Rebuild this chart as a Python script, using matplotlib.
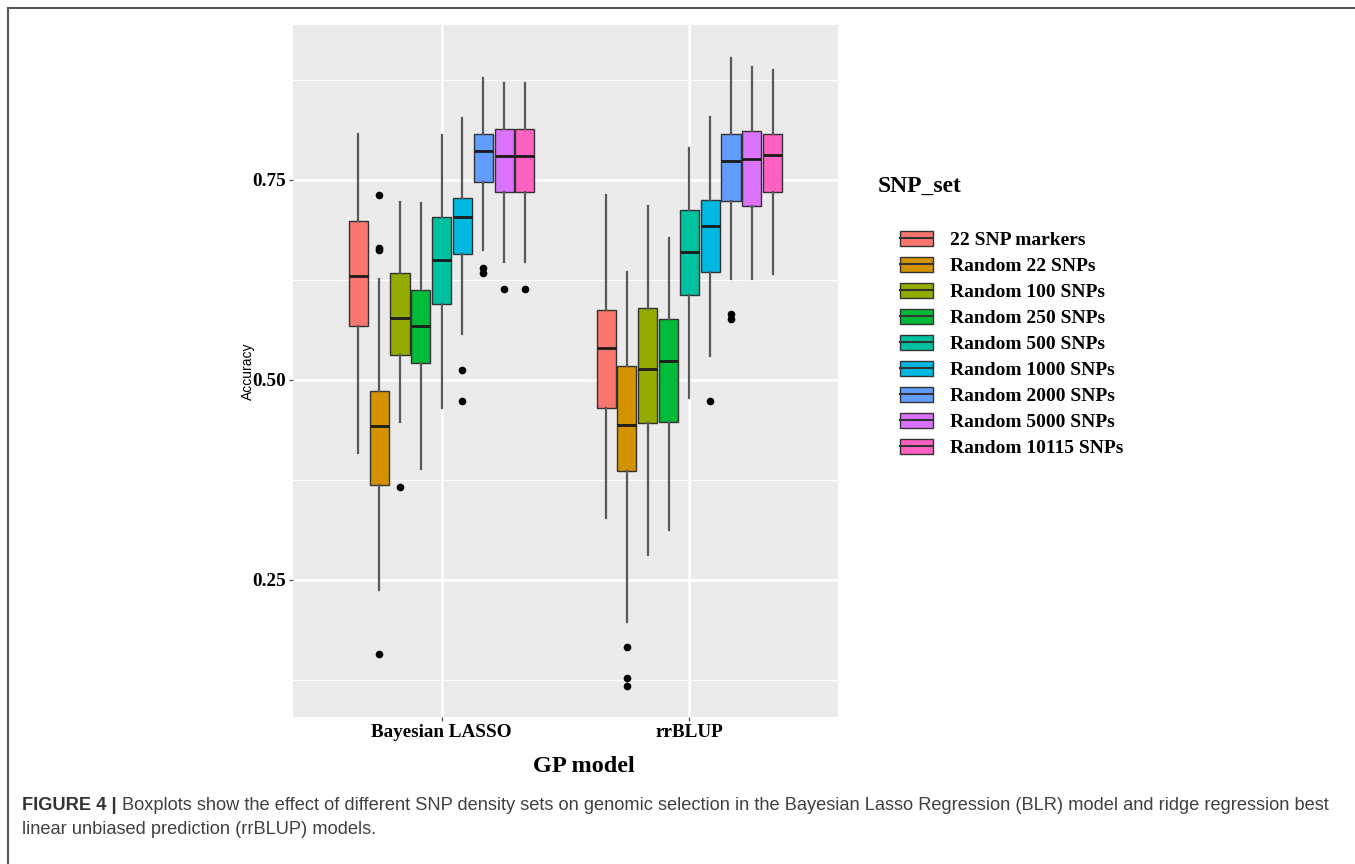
import matplotlib
matplotlib.use('Agg')
import matplotlib.pyplot as plt
from matplotlib.patches import Patch
from matplotlib.lines import Line2D

W, H = 1355, 864

modelos = ['Bayesian LASSO', 'rrBLUP']
snp_sets = ['22 SNP markers', 'Random 22 SNPs', 'Random 100 SNPs', 'Random 250 SNPs',
            'Random 500 SNPs', 'Random 1000 SNPs', 'Random 2000 SNPs',
            'Random 5000 SNPs', 'Random 10115 SNPs']
cores = ['#F8766D', '#D39200', '#93AA00', '#00BA38', '#00C19F',
         '#00B9E3', '#619CFF', '#DB72FB', '#FF61C3']

# Bayesian LASSO
blr_whislo = [0.409, 0.237, 0.447, 0.389, 0.465, 0.557, 0.662, 0.647, 0.647]
blr_q1 = [0.568, 0.369, 0.531, 0.521, 0.595, 0.658, 0.747, 0.735, 0.735]
blr_med = [0.630, 0.442, 0.577, 0.568, 0.650, 0.704, 0.786, 0.780, 0.780]
blr_q3 = [0.699, 0.486, 0.634, 0.612, 0.704, 0.728, 0.808, 0.814, 0.814]
blr_whishi = [0.808, 0.626, 0.722, 0.721, 0.806, 0.828, 0.878, 0.871, 0.871]
blr_outliers = [[], [0.731, 0.665, 0.663, 0.158], [0.366], [], [],
                [0.513, 0.474], [0.640, 0.634], [0.614], [0.614]]

# rrBLUP
rr_whislo = [0.327, 0.197, 0.281, 0.313, 0.477, 0.530, 0.626, 0.626, 0.632]
rr_q1 = [0.465, 0.386, 0.446, 0.448, 0.606, 0.635, 0.724, 0.717, 0.735]
rr_med = [0.540, 0.444, 0.514, 0.524, 0.660, 0.692, 0.774, 0.776, 0.781]
rr_q3 = [0.587, 0.517, 0.590, 0.576, 0.712, 0.725, 0.808, 0.811, 0.807]
rr_whishi = [0.731, 0.635, 0.718, 0.677, 0.790, 0.829, 0.902, 0.891, 0.887]
rr_outliers = [[], [0.166, 0.127, 0.118], [], [], [], [0.474],
               [0.582, 0.576], [], []]

dados = [
    (blr_whislo, blr_q1, blr_med, blr_q3, blr_whishi, blr_outliers),
    (rr_whislo, rr_q1, rr_med, rr_q3, rr_whishi, rr_outliers),
]

serif = ['Liberation Serif', 'DejaVu Serif']
sans = ['Liberation Sans', 'DejaVu Sans']

fig = plt.figure(figsize=(W / 100, H / 100), dpi=100)
fig.patch.set_facecolor('white')

ax = fig.add_axes([293 / W, 1 - 717 / H, 545 / W, 692 / H])
ax.set_facecolor('#EBEBEB')
for s in ax.spines.values():
    s.set_visible(False)

passo = 0.084
largura = 0.077
for g, (wlo, q1, med, q3, whi, outs) in enumerate(dados):
    for i in range(len(snp_sets)):
        pos = g + 1 + (i - 4) * passo
        stats = [{'whislo': wlo[i], 'q1': q1[i], 'med': med[i], 'q3': q3[i],
                  'whishi': whi[i], 'fliers': outs[i]}]
        bp = ax.bxp(stats, positions=[pos], widths=largura, patch_artist=True,
                    showcaps=False, manage_ticks=False,
                    boxprops=dict(facecolor=cores[i], edgecolor='#333333', linewidth=1.0),
                    medianprops=dict(color='#1a1a1a', linewidth=2.0),
                    whiskerprops=dict(color='#595959', linewidth=1.6),
                    flierprops=dict(marker='o', markerfacecolor='black',
                                    markeredgecolor='black', markersize=4.5))
        for el in bp['boxes'] + bp['medians'] + bp['whiskers'] + bp['fliers']:
            el.set_zorder(3)

ax.set_xlim(0.4, 2.6)
ax.set_ylim(0.07875, 0.94375)
ax.set_yticks([0.25, 0.50, 0.75])
ax.set_yticklabels(['0.25', '0.50', '0.75'])
ax.set_yticks([0.125, 0.375, 0.625, 0.875], minor=True)
ax.set_xticks([1, 2])
ax.set_xticklabels(modelos)
ax.grid(True, which='major', color='white', linewidth=1.8)
ax.grid(True, which='minor', axis='y', color='white', linewidth=0.9)
ax.set_axisbelow(True)
ax.tick_params(which='major', length=3, width=1, color='#555555', pad=2,
               labelcolor='black')
ax.tick_params(which='minor', length=0)
for lbl in ax.get_yticklabels() + ax.get_xticklabels():
    lbl.set_family(serif)
    lbl.set_fontweight('bold')
    lbl.set_fontsize(13.8)

ax.set_ylabel('Accuracy', family=sans, fontsize=10)
ax.yaxis.set_label_coords(-0.07, 0.5)

fig.text(584 / W, 1 - 766 / H, 'GP model', family=serif, fontweight='bold',
         fontsize=17.5, ha='center', va='center')

# legenda
fig.text(878 / W, 1 - 186 / H, 'SNP_set', family=serif, fontweight='bold',
         fontsize=17, ha='left', va='center')
handles = [(Patch(facecolor=c, edgecolor='#333333', linewidth=1.0),
            Line2D([], [], color='#333333', linewidth=1.5)) for c in cores]
leg = fig.legend(handles, snp_sets, loc='upper left',
                 bbox_to_anchor=(900 / W, 1 - 231 / H), frameon=False,
                 prop={'family': serif, 'weight': 'bold', 'size': 14},
                 handlelength=1.7, handleheight=0.8, handletextpad=0.85,
                 labelspacing=0.40, borderpad=0, borderaxespad=0)

# moldura da figura
fig.add_artist(Line2D([8 / W, 1], [1 - 8 / H, 1 - 8 / H], transform=fig.transFigure,
                      color='#555555', linewidth=1.5))
fig.add_artist(Line2D([8 / W, 8 / W], [0, 1 - 8 / H], transform=fig.transFigure,
                      color='#555555', linewidth=1.5))

# legenda da figura (caption)
renderer = fig.canvas.get_renderer()
t = fig.text(22 / W, 1 - 805 / H, 'FIGURE 4 |', family=sans, fontweight='bold',
             fontsize=13.15, color='#333333', ha='left', va='center')
bb = t.get_window_extent(renderer)
fig.text(bb.x1 / W + 5 / W, 1 - 805 / H,
         'Boxplots show the effect of different SNP density sets on genomic selection in the '
         'Bayesian Lasso Regression (BLR) model and ridge regression best',
         family=sans, fontsize=13.15, color='#404040', ha='left', va='center')
fig.text(22 / W, 1 - 829 / H, 'linear unbiased prediction (rrBLUP) models.',
         family=sans, fontsize=13.15, color='#404040', ha='left', va='center')

fig.savefig('out.png', dpi=100)
